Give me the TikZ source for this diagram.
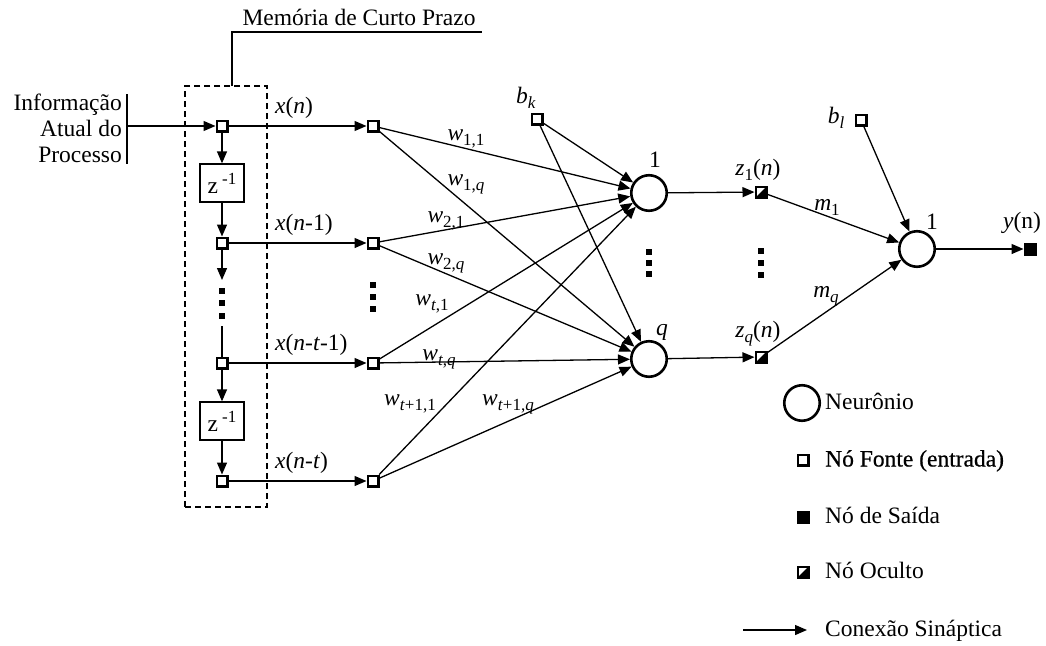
\documentclass[tikz,border=0pt]{standalone}
\usepackage{fontspec}
\setmainfont{Liberation Serif}
\newfontfamily\heavyfont{Liberation Serif}[FakeBold=0.6]
\usetikzlibrary{arrows.meta}
% subscript / superscript in the text face
\newcommand\lo[1]{\raisebox{-5pt}{\fontsize{17}{17}\selectfont #1}}
\newcommand\hi[1]{\raisebox{9pt}{\fontsize{17}{17}\selectfont #1}}
\begin{document}
\begin{tikzpicture}[x=1pt,y=-1pt,
  font=\fontsize{23.5}{26}\selectfont,
  >={Triangle[length=12pt,width=10pt]},
  conn/.style={line width=1.3pt,->},
  src/.style={draw,line width=2.5pt,minimum size=10.5pt,inner sep=0pt,fill=white},
  outn/.style={src,fill=black},
  hid/.style={src,path picture={\fill[black] (path picture bounding box.south west) -- (path picture bounding box.south east) -- (path picture bounding box.north east) -- cycle;}},
  neuron/.style={draw,circle,line width=2.6pt,minimum size=35.5pt,inner sep=0pt},
  zbox/.style={draw,line width=1.3pt,minimum width=44pt,minimum height=38pt,inner sep=0pt},
  dot/.style={fill=black,minimum size=6pt,inner sep=0pt},
  lbl/.style={inner sep=0pt,text height=16pt,text depth=5pt},
]
\useasboundingbox (0,0) rectangle (1046,645);

% short-term memory frame and its caption
\node[draw,line width=1.2pt,dash pattern=on 6pt off 4pt,minimum width=82pt,minimum height=421pt,inner sep=0pt] (mem) at (226,296.5) {};
\node[lbl] (memtxt) at (359,20) {Memória de Curto Prazo};
\coordinate (brkA) at (232,86);
\coordinate (brkB) at (482,32);
\draw[line width=1.1pt] (brkA) |- (brkB);

% process input
\node[align=right,anchor=east,inner sep=0pt] (info) at (122,128) {Informação\\Atual do\\Processo};
\draw[line width=2.8pt] (127,94) -- (127,164);
\coordinate (inp) at (127,126);

% tapped delay line
\node[src] (m0) at (222,126) {};
\node[zbox] (d1) at (222,183) {z\,\hi{-1}};
\node[src] (m1) at (222,243) {};
\coordinate (gapA) at (222,280);
\node[dot] at (222,291) {};
\node[dot] at (222,303) {};
\node[dot] at (222,316) {};
\coordinate (gapB) at (222,326);
\node[src] (m2) at (222,363) {};
\node[zbox] (d2) at (222,421) {z\,\hi{-1}};
\node[src] (m3) at (222,481) {};

\draw[conn] (inp) -- (m0);
\draw[conn] (m0) -- (d1);
\draw[conn] (d1) -- (m1);
\draw[conn] (m1) -- (gapA);
\draw[line width=1.3pt] (gapB) -- (m2);
\draw[conn] (m2) -- (d2);
\draw[conn] (d2) -- (m3);

% input layer
\node[src] (i0) at (373,126) {};
\node[src] (i1) at (373,243) {};
\node[src] (i2) at (373,363) {};
\node[src] (i3) at (373,481) {};
\node[dot] at (373,285) {};
\node[dot] at (373,297) {};
\node[dot] at (373,309) {};

\draw[conn] (m0) -- (i0);
\draw[conn] (m1) -- (i1);
\draw[conn] (m2) -- (i2);
\draw[conn] (m3) -- (i3);

\node[lbl,anchor=south west] at (275,119) {\textit{x}(\textit{n})};
\node[lbl,anchor=south west] at (275,236) {\textit{x}(\textit{n}-1)};
\node[lbl,anchor=south west] at (275,356) {\textit{x}(\textit{n}-\textit{t}-1)};
\node[lbl,anchor=south west] at (275,474) {\textit{x}(\textit{n}-\textit{t})};

% hidden layer
\node[neuron] (h1) at (649,193) {};
\node[neuron] (hq) at (649,359) {};
\node[src] (bk) at (537,119) {};
\node[lbl] at (526,98) {\textit{b}\lo{\textit{k}}};
\node[lbl] at (655,162) {1};
\node[lbl] at (662,330) {\textit{q}};
\node[dot] at (649,252) {};
\node[dot] at (649,263) {};
\node[dot] at (649,274) {};

\draw[conn] (i0) -- (h1);
\draw[conn] (i0) -- (hq);
\draw[conn] (i1) -- (h1);
\draw[conn] (i1) -- (hq);
\draw[conn] (i2) -- (h1);
\draw[conn] (i2) -- (hq);
\draw[conn] (i3) -- (h1);
\draw[conn] (i3) -- (hq);
\draw[conn] (bk) -- (h1);
\draw[conn] (bk) -- (hq);

\node[lbl] at (466,135) {\textit{w}\lo{1,1}};
\node[lbl] at (466,180) {\textit{w}\lo{1,\textit{q}}};
\node[lbl] at (446,217) {\textit{w}\lo{2,1}};
\node[lbl] at (446,259) {\textit{w}\lo{2,\textit{q}}};
\node[lbl] at (432,300) {\textit{w}\lo{\textit{t},1}};
\node[lbl] at (439,355) {\textit{w}\lo{\textit{t},\textit{q}}};
\node[lbl] at (410,400) {\textit{w}\lo{\textit{t}+1,1}};
\node[lbl] at (508,400) {\textit{w}\lo{\textit{t}+1,\textit{q}}};

% hidden outputs
\node[hid] (z1) at (761,192) {};
\node[hid] (zq) at (761,357) {};
\node[dot] at (761,251) {};
\node[dot] at (761,263) {};
\node[dot] at (761,275) {};
\draw[conn] (h1) -- (z1);
\draw[conn] (hq) -- (zq);
\node[lbl] at (758,170) {\textit{z}\lo{1}(\textit{n})};
\node[lbl] at (758,332) {\textit{z}\lo{\textit{q}}(\textit{n})};

% output layer
\node[neuron] (o1) at (917,249) {};
\node[src] (bl) at (861,120) {};
\node[lbl] at (836,118) {\textit{b}\lo{\textit{l}}};
\node[outn] (y) at (1030,249) {};
\draw[conn] (z1) -- (o1);
\draw[conn] (zq) -- (o1);
\draw[conn] (bl) -- (o1);
\draw[conn] (o1) -- (y);
\node[lbl] at (827,205) {\textit{m}\lo{1}};
\node[lbl] at (826,292) {\textit{m}\lo{\textit{q}}};
\node[lbl] at (932,224) {1};
\node[lbl] at (1022,223) {\textit{y}(n)};

% key
\node[neuron] (kN) at (802,403) {};
\node[lbl,anchor=west] at (825,404) {Neurônio};
\node[src] (kS) at (803,460) {};
\node[lbl,anchor=west] at (825,461) {\heavyfont Nó Fonte (entrada)};
\node[outn] (kO) at (803,517) {};
\node[lbl,anchor=west] at (825,518) {Nó de Saída};
\node[hid] (kH) at (803,572) {};
\node[lbl,anchor=west] at (825,573) {Nó Oculto};
\coordinate (kA) at (743,630);
\coordinate (kB) at (807,630);
\draw[conn] (kA) -- (kB);
\node[lbl,anchor=west] at (825,631) {Conexão Sináptica};
\end{tikzpicture}
\end{document}
